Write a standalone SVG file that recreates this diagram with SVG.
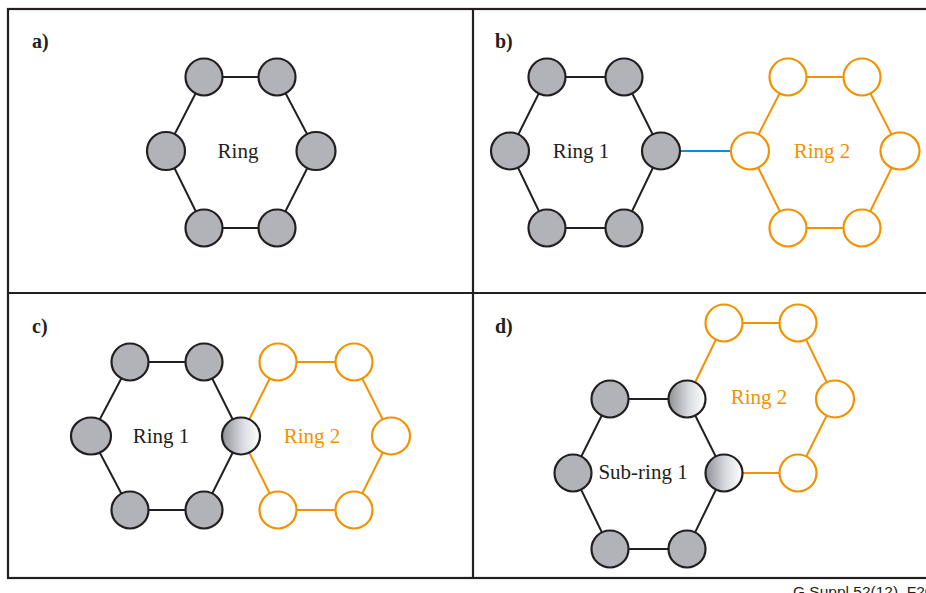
<svg xmlns="http://www.w3.org/2000/svg" width="926" height="593" viewBox="0 0 926 593">
  <defs>
    <linearGradient id="shared" x1="0" y1="0" x2="1" y2="0">
      <stop offset="0" stop-color="#8f9198"/>
      <stop offset="0.55" stop-color="#d9dbe0"/>
      <stop offset="1" stop-color="#ffffff"/>
    </linearGradient>
  </defs>
  <style>
    .frame { fill: none; stroke: #231f20; stroke-width: 2.2; }
    .n { fill: #b1b3b8; stroke: #231f20; stroke-width: 2.2; }
    .o { fill: #ffffff; stroke: #f39200; stroke-width: 2.2; }
    .g { fill: url(#shared); stroke: #231f20; stroke-width: 2.2; }
    .eb { stroke: #231f20; stroke-width: 2; fill: none; }
    .eo { stroke: #f39200; stroke-width: 2; fill: none; }
    .link { stroke: #0a8ce0; stroke-width: 2.2; }
    .lbl { font-family: "Liberation Serif", "Times New Roman", serif; font-size: 21px; text-anchor: middle; }
    .panel { font-family: "Liberation Serif", "Times New Roman", serif; font-size: 20px; font-weight: bold; fill: #231f20; }
    .k { fill: #231f20; }
    .or { fill: #f39200; }
  </style>

  <!-- panel frames -->
  <g id="frames">
    <rect class="frame" x="8" y="9" width="940" height="569"/>
    <line class="frame" x1="8" y1="293" x2="926" y2="293"/>
    <line class="frame" x1="473" y1="9" x2="473" y2="578"/>
  </g>

  <!-- connectors -->
  <g id="connectors">
    <!-- a) ring -->
    <polygon class="eb" points="204,77 277,77 316,151 277,228 204,228 166,151"/>
    <!-- b) ring 1, ring 2 and the link between them -->
    <polygon class="eb" points="547,77 624,77 661,151 624,228 547,228 510,151"/>
    <polygon class="eo" points="788,77 862,77 900,151 862,228 788,228 750,151"/>
    <line class="link" x1="681" y1="151" x2="731" y2="151"/>
    <!-- c) rings sharing one node -->
    <polygon class="eb" points="130,362 204,362 241,436 204,510 130,510 91,436"/>
    <polygon class="eo" points="241,436 278,362 354,362 391,436 354,510 278,510"/>
    <!-- d) sub-ring 1 and ring 2 sharing two nodes -->
    <polygon class="eb" points="610,399 687,399 724,473 687,549 610,549 573,473"/>
    <polyline class="eo" points="687,399 724,323 798,323 835,399 798,473 724,473"/>
  </g>

  <!-- a) -->
  <g id="panel-a">
    <text class="panel" x="32" y="48">a)</text>
    <g id="a-n1"><circle class="n" cx="204" cy="77" r="18.5"/></g>
    <g id="a-n2"><circle class="n" cx="277" cy="77" r="18.5"/></g>
    <g id="a-n3"><ellipse class="n" cx="316" cy="151" rx="19.5" ry="19"/></g>
    <g id="a-n4"><circle class="n" cx="277" cy="228" r="18.5"/></g>
    <g id="a-n5"><circle class="n" cx="204" cy="228" r="18.5"/></g>
    <g id="a-n6"><ellipse class="n" cx="166" cy="151" rx="19" ry="19"/></g>
    <text class="lbl k" x="238" y="158">Ring</text>
  </g>

  <!-- b) -->
  <g id="panel-b">
    <text class="panel" x="495" y="48">b)</text>
    <g id="b-r1-n1"><circle class="n" cx="547" cy="77" r="18.5"/></g>
    <g id="b-r1-n2"><circle class="n" cx="624" cy="77" r="18.5"/></g>
    <g id="b-r1-n3"><ellipse class="n" cx="661" cy="151" rx="19" ry="18.5"/></g>
    <g id="b-r1-n4"><circle class="n" cx="624" cy="228" r="18.5"/></g>
    <g id="b-r1-n5"><circle class="n" cx="547" cy="228" r="18.5"/></g>
    <g id="b-r1-n6"><ellipse class="n" cx="510" cy="151" rx="19" ry="18.5"/></g>
    <g id="b-r2-n1"><circle class="o" cx="788" cy="77" r="18.5"/></g>
    <g id="b-r2-n2"><circle class="o" cx="862" cy="77" r="18.5"/></g>
    <g id="b-r2-n3"><ellipse class="o" cx="900" cy="151" rx="19.5" ry="18.5"/></g>
    <g id="b-r2-n4"><circle class="o" cx="862" cy="228" r="18.5"/></g>
    <g id="b-r2-n5"><circle class="o" cx="788" cy="228" r="18.5"/></g>
    <g id="b-r2-n6"><ellipse class="o" cx="750" cy="151" rx="19" ry="18.5"/></g>
    <text class="lbl k" x="581" y="158">Ring 1</text>
    <text class="lbl or" x="822" y="158">Ring 2</text>
  </g>

  <!-- c) -->
  <g id="panel-c">
    <text class="panel" x="32" y="333">c)</text>
    <g id="c-r1-n1"><circle class="n" cx="130" cy="362" r="18.5"/></g>
    <g id="c-r1-n2"><circle class="n" cx="204" cy="362" r="18.5"/></g>
    <g id="c-shared"><ellipse class="g" cx="241" cy="436" rx="19" ry="18.5"/></g>
    <g id="c-r1-n4"><circle class="n" cx="204" cy="510" r="18.5"/></g>
    <g id="c-r1-n5"><circle class="n" cx="130" cy="510" r="18.5"/></g>
    <g id="c-r1-n6"><ellipse class="n" cx="91" cy="436" rx="20" ry="18.5"/></g>
    <g id="c-r2-n1"><circle class="o" cx="278" cy="362" r="18.5"/></g>
    <g id="c-r2-n2"><circle class="o" cx="354" cy="362" r="18.5"/></g>
    <g id="c-r2-n3"><ellipse class="o" cx="391" cy="436" rx="19" ry="18.5"/></g>
    <g id="c-r2-n4"><circle class="o" cx="354" cy="510" r="18.5"/></g>
    <g id="c-r2-n5"><circle class="o" cx="278" cy="510" r="18.5"/></g>
    <text class="lbl k" x="161" y="443">Ring 1</text>
    <text class="lbl or" x="312" y="443">Ring 2</text>
  </g>

  <!-- d) -->
  <g id="panel-d">
    <text class="panel" x="495" y="333">d)</text>
    <g id="d-s1-n1"><circle class="n" cx="610" cy="399" r="18.5"/></g>
    <g id="d-shared-1"><circle class="g" cx="687" cy="399" r="18.5"/></g>
    <g id="d-shared-2"><circle class="g" cx="724" cy="473" r="18.5"/></g>
    <g id="d-s1-n4"><circle class="n" cx="687" cy="549" r="18.5"/></g>
    <g id="d-s1-n5"><circle class="n" cx="610" cy="549" r="18.5"/></g>
    <g id="d-s1-n6"><ellipse class="n" cx="573" cy="473" rx="18.5" ry="18.5"/></g>
    <g id="d-r2-n1"><circle class="o" cx="724" cy="323" r="18.5"/></g>
    <g id="d-r2-n2"><circle class="o" cx="798" cy="323" r="18.5"/></g>
    <g id="d-r2-n3"><ellipse class="o" cx="835" cy="399" rx="19" ry="18.5"/></g>
    <g id="d-r2-n4"><circle class="o" cx="798" cy="473" r="18.5"/></g>
    <text class="lbl or" x="759" y="404">Ring 2</text>
    <text class="lbl k" x="643" y="479">Sub-ring 1</text>
  </g>

  <!-- figure reference number, runs past the lower right corner -->
  <text x="793" y="597" font-family="Liberation Sans, Arial, sans-serif" font-size="15.5" fill="#231f20">G.Suppl.52(12)_F20</text>
</svg>
